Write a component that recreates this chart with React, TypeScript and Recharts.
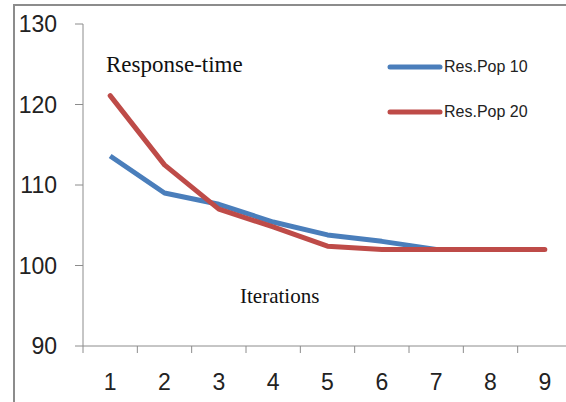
import React from 'react';
import { LineChart, Line, XAxis, YAxis, Legend } from 'recharts';

const iterations = [1, 2, 3, 4, 5, 6, 7, 8, 9];
const resPop10 = [113.6, 109.0, 107.6, 105.4, 103.8, 103.0, 102.0, 102.0, 102.0];
const resPop20 = [121.1, 112.5, 107.0, 104.8, 102.4, 102.0, 102.0, 102.0, 102.0];
const yTicks = [90, 100, 110, 120, 130];
// category boundaries get tick marks, category centres get labels
const xTicks = [0.5, 1, 1.5, 2, 2.5, 3, 3.5, 4, 4.5, 5, 5.5, 6, 6.5, 7, 7.5, 8, 8.5, 9, 9.5];

const data = iterations.map((it, i) => ({
  iter: it,
  pop10: resPop10[i],
  pop20: resPop20[i],
}));

const BLUE = '#4A7EBB';
const RED = '#BE4B48';
const AXIS = '#8c8c8c';

const XTick = (props: any) => {
  const { x, y, payload } = props;
  const v = payload.value;
  if (!Number.isInteger(v)) {
    return <line x1={x} x2={x} y1={y} y2={y + 7} stroke={AXIS} strokeWidth={1} />;
  }
  return (
    <text
      x={x}
      y={y + 38}
      textAnchor="middle"
      dominantBaseline="middle"
      fontFamily="Liberation Sans, Arial, sans-serif"
      fontSize={23}
      fill="#222"
    >
      {v}
    </text>
  );
};

const LegendBox = (props: any) => {
  const { payload } = props;
  return (
    <div>
      {payload.map((p: any) => (
        <div key={p.value} style={{ display: 'flex', alignItems: 'center', height: 24, marginBottom: 21 }}>
          <svg width={56} height={8}>
            <line x1={3} x2={53} y1={4} y2={4} stroke={p.color} strokeWidth={5} strokeLinecap="round" />
          </svg>
          <span style={{ fontFamily: 'Liberation Sans, Arial, sans-serif', fontSize: 16, color: '#222', marginLeft: 1 }}>
            {p.value}
          </span>
        </div>
      ))}
    </div>
  );
};

export default function App() {
  return (
    <div style={{ position: 'relative', width: 566, height: 402, overflow: 'hidden', background: '#fff' }}>
      <style>{`body{margin:0}`}</style>
      <div
        style={{
          position: 'absolute',
          left: 13,
          top: 4,
          width: 700,
          height: 500,
          borderLeft: `2px solid ${AXIS}`,
          borderTop: `2px solid ${AXIS}`,
        }}
      />
      <div style={{ position: 'absolute', left: 0, top: 0 }}>
        <LineChart width={580} height={402} data={data} margin={{ top: 24, right: 8, bottom: 0, left: 0 }}>
          <XAxis
            dataKey="iter"
            type="number"
            domain={[0.5, 9.5]}
            ticks={xTicks}
            interval={0}
            tick={<XTick />}
            tickLine={false}
            tickSize={0}
            tickMargin={0}
            height={56}
            axisLine={{ stroke: AXIS, strokeWidth: 1 }}
          />
          <YAxis
            type="number"
            domain={[90, 130]}
            ticks={yTicks}
            interval={0}
            width={83}
            tickSize={8}
            tickMargin={18}
            tickLine={{ stroke: AXIS }}
            axisLine={{ stroke: AXIS, strokeWidth: 1 }}
            tick={{ fontFamily: 'Liberation Sans, Arial, sans-serif', fontSize: 23, fill: '#222' }}
          />
          <Legend
            layout="horizontal"
            verticalAlign="middle"
            align="center"
            content={<LegendBox />}
            wrapperStyle={{ left: 387, top: 55, width: 170 }}
          />
          <Line
            type="linear"
            dataKey="pop10"
            name="Res.Pop 10"
            stroke={BLUE}
            strokeWidth={5}
            strokeLinejoin="round"
            dot={false}
            activeDot={false}
            isAnimationActive={false}
          />
          <Line
            type="linear"
            dataKey="pop20"
            name="Res.Pop 20"
            stroke={RED}
            strokeWidth={5}
            strokeLinecap="round"
            strokeLinejoin="round"
            dot={false}
            activeDot={false}
            isAnimationActive={false}
          />
          <text x={106} y={72} fontFamily="Liberation Serif, Times New Roman, serif" fontSize={23} fill="#111">
            Response-time
          </text>
          <text x={240} y={303} fontFamily="Liberation Serif, Times New Roman, serif" fontSize={21} fill="#111">
            Iterations
          </text>
        </LineChart>
      </div>
    </div>
  );
}
